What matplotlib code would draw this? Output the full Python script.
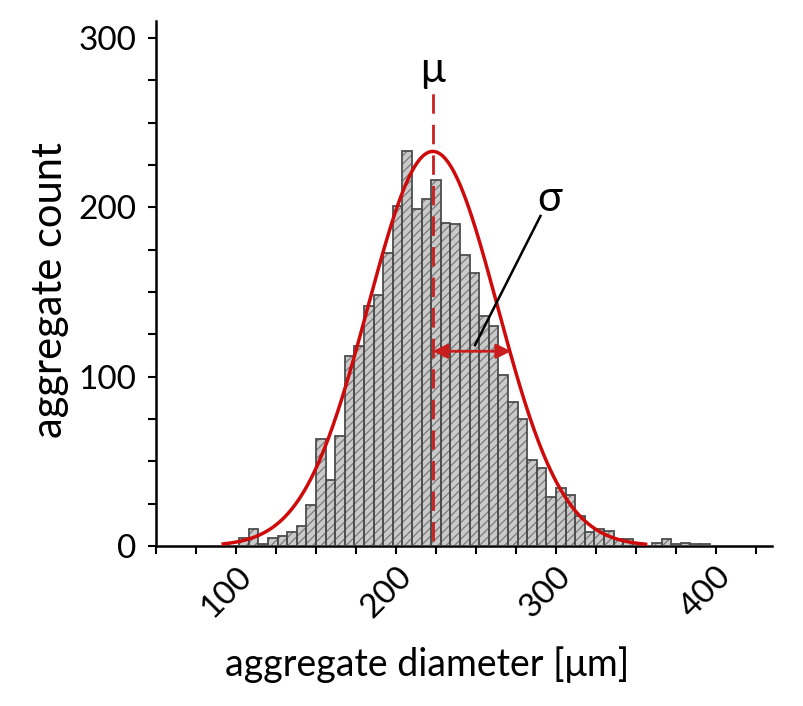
import numpy as np
import matplotlib
matplotlib.use("Agg")
import matplotlib.pyplot as plt
from matplotlib.ticker import MultipleLocator, FuncFormatter

# ---- data ----
bin_start = 102.0   # left edge of first bin [um]
bin_width = 6.0     # bin width [um]
counts = [5, 10, 1, 5, 6, 8, 12, 24, 63, 39, 65, 112, 118, 142, 148, 173, 201,
          233, 199, 205, 216, 191, 190, 172, 161, 136, 130, 101, 85, 75, 51, 46,
          29, 34, 30, 18, 8, 10, 9, 4, 4, 2, 0, 2, 4, 1, 2, 1, 1]

# Gaussian fit parameters
fit_mu = 223.0
fit_sigma = 40.5
fit_amp = 233.0
fit_range = (92.0, 356.0)

x_tick_labels = ["100", "200", "300", "400"]
y_tick_labels = ["0", "100", "200", "300"]

plt.rcParams['font.family'] = ['Lato', 'DejaVu Sans']
plt.rcParams['hatch.linewidth'] = 0.9

fig = plt.figure(figsize=(8.04, 7.06), dpi=100)
ax = fig.add_axes([156/804, 1-546/706, (772-156)/804, (546-21)/706])

edges = bin_start + bin_width*np.arange(len(counts))
# hatched fill (hatch colour follows edgecolor) then outlines on top
ax.bar(edges, counts, width=bin_width, align='edge', color='#cacaca',
       edgecolor='#7a7a7a', linewidth=0, hatch='////', zorder=2)
ax.bar(edges, counts, width=bin_width, align='edge', fill=False,
       edgecolor='#4d4d4d', linewidth=1.3, zorder=3)

xs = np.linspace(fit_range[0], fit_range[1], 400)
ys = fit_amp*np.exp(-0.5*((xs-fit_mu)/fit_sigma)**2)
red = '#cf0a0a'
ax.plot(xs, ys, color=red, lw=2.5, zorder=4)

# mu marker
ax.plot([fit_mu, fit_mu], [3, 268], color='#c81e1e', lw=2, ls=(0, (7, 4)), zorder=5)
ax.text(fit_mu, 281, "μ", ha='center', va='center', fontsize=30)

# sigma arrow
ax.annotate("", xy=(fit_mu+48.9, 115), xytext=(fit_mu, 115),
            arrowprops=dict(arrowstyle='<|-|>', color='#c81e1e', lw=2,
                            mutation_scale=22, shrinkA=0, shrinkB=0), zorder=6)
ax.plot([249.4, 290.3], [118.6, 194.9], color='black', lw=1.8, zorder=6)
ax.text(296, 205, "σ", ha='center', va='center', fontsize=30)

ax.set_xlim(50, 435)
ax.set_ylim(0, 310)
ax.xaxis.set_major_locator(MultipleLocator(25))
ax.yaxis.set_major_locator(MultipleLocator(25))
ax.xaxis.set_major_formatter(FuncFormatter(lambda v, p: x_tick_labels[int(round(v/100))-1]
                                           if abs(v % 100) < 1e-6 and 1 <= round(v/100) <= 4 else ""))
ax.yaxis.set_major_formatter(FuncFormatter(lambda v, p: y_tick_labels[int(round(v/100))]
                                           if abs(v % 100) < 1e-6 and 0 <= round(v/100) <= 3 else ""))
ax.tick_params(axis='both', which='major', length=6, width=1.5, labelsize=24, direction='out')
ax.tick_params(axis='y', pad=8)
ax.tick_params(axis='x', pad=5)
for lab in ax.get_xticklabels():
    lab.set_rotation(45)
    lab.set_ha('right')
    lab.set_va('top')
    lab.set_rotation_mode('anchor')

for s in ['top', 'right']:
    ax.spines[s].set_visible(False)
for s in ['left', 'bottom']:
    ax.spines[s].set_linewidth(1.8)

ax.set_ylabel("aggregate count", fontsize=30)
ax.yaxis.set_label_coords((50-156)/616, (546-290)/525)
ax.yaxis.label.set_va('center')
ax.set_xlabel("aggregate diameter [μm]", fontsize=27)
ax.xaxis.set_label_coords((427-156)/616, -(665-546)/525)
ax.xaxis.label.set_va('center')

fig.savefig("out.png", dpi=100)
